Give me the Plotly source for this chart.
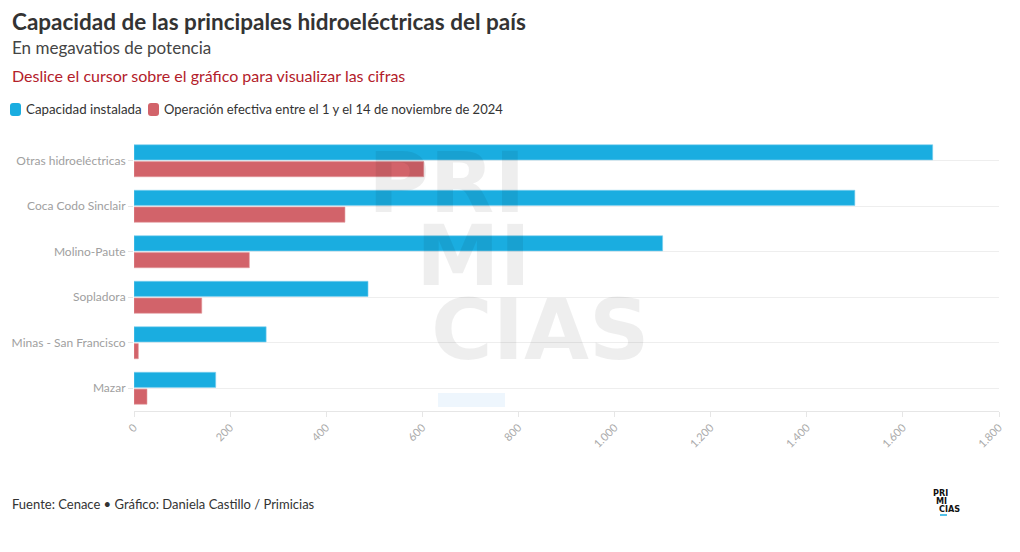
import plotly.graph_objects as go

categories = ["Otras hidroeléctricas", "Coca Codo Sinclair", "Molino-Paute",
              "Sopladora", "Minas - San Francisco", "Mazar"]
capacidad = [1662, 1500, 1100, 487, 275, 170]
operacion = [603, 439, 240, 141, 9, 27]
x_ticks = [0, 200, 400, 600, 800, 1000, 1200, 1400, 1600, 1800]
series_names = ["Capacidad instalada",
                "Operación efectiva entre el 1 y el 14 de noviembre de 2024"]

BLUE = "#1aade0"
RED = "#d2636a"
FONT = "Lato"

OFF = 8  # page body margin
W, H = 1004, 536
L, T = 134 - OFF, 138 - OFF
R = W - (999 - OFF)
B = H - (411 - OFF)
PW, PH = W - L - R, H - T - B


def px(x):
    return (x - OFF - L) / PW


def py(y):
    return 1 - (y - OFF - T) / PH


fig = go.Figure()
fig.add_trace(go.Bar(y=categories, x=capacidad, orientation="h",
                     name=series_names[0], marker_color=BLUE,
                     marker_line=dict(color="#7fd0ee", width=0.6)))
fig.add_trace(go.Bar(y=categories, x=operacion, orientation="h",
                     name=series_names[1], marker_color=RED,
                     marker_line=dict(color="#e29a9e", width=0.6)))

fig.update_layout(
    width=W, height=H,
    margin=dict(l=L, r=R, t=T, b=B, autoexpand=False),
    paper_bgcolor="white", plot_bgcolor="white",
    barmode="group", bargap=0.26, bargroupgap=0.1,
    separators=",.",
    font=dict(family=FONT, color="#333"),
    showlegend=False,
    xaxis=dict(range=[0, 1800], tickvals=x_ticks, tickformat=",d", tickangle=-45,
               tickfont=dict(size=11, color="#aaa"), showgrid=False,
               showline=True, linecolor="#e6e6e6", ticks="outside",
               ticklen=5, tickcolor="#e6e6e6", zeroline=False, fixedrange=True,
               automargin=False),
    yaxis=dict(autorange="reversed", showgrid=True, gridcolor="#eeeeee",
               tickfont=dict(size=12, color="#a0a0a0"), ticks="outside",
               ticklen=5, tickcolor="#e6e6e6", showline=False, fixedrange=True,
               automargin=False),
)

# Watermark
wm = dict(xref="paper", yref="paper", showarrow=False,
          font=dict(family="DejaVu Sans", size=84, color="rgba(0,0,0,0.065)"),
          xanchor="left", yanchor="middle")
fig.add_annotation(text="<b>PRI</b>", x=px(366), y=py(183), **wm)
fig.add_annotation(text="<b>MI</b>", x=px(414), y=py(256), **wm)
fig.add_annotation(text="<b>CIAS</b>", x=px(429), y=py(330), **wm)
fig.add_shape(type="rect", xref="paper", yref="paper", x0=px(438), x1=px(505),
              y0=py(407), y1=py(393), fillcolor="#eef6fd", line_width=0, layer="below")

# Titles and footer
texts = [
    dict(text="<b>Capacidad de las principales hidroeléctricas del país</b>",
         x=10, y=22, size=22.5, color="#333"),
    dict(text="En megavatios de potencia", x=10, y=47, size=17, color="#444"),
    dict(text="Deslice el cursor sobre el gráfico para visualizar las cifras",
         x=10, y=76, size=16, color="#b3202a"),
    dict(text="Fuente: Cenace • Gráfico: Daniela Castillo / Primicias",
         x=10, y=504, size=13, color="#333"),
    dict(text=series_names[0], x=24, y=109.5, size=13.3, color="#333"),
    dict(text=series_names[1], x=162, y=109.5, size=13, color="#333"),
]
for a in texts:
    fig.add_annotation(text=a["text"], xref="paper", yref="paper",
                       x=px(a["x"]), y=py(a["y"]),
                       xanchor="left", yanchor="middle", showarrow=False,
                       font=dict(size=a["size"], color=a["color"], family=FONT))


# Legend symbols (rounded squares), built in paper units
def rounded(x0, y0, x1, y1, rx, ry):
    return (f"M{x0+rx},{y0} L{x1-rx},{y0} Q{x1},{y0} {x1},{y0+ry} L{x1},{y1-ry} "
            f"Q{x1},{y1} {x1-rx},{y1} L{x0+rx},{y1} Q{x0},{y1} {x0},{y1-ry} "
            f"L{x0},{y0+ry} Q{x0},{y0} {x0+rx},{y0} Z")


rx, ry = 3 / PW, 3 / PH
for (x0, col) in [(10, BLUE), (148, RED)]:
    fig.add_shape(type="path", xref="paper", yref="paper",
                  path=rounded(px(x0), py(116), px(x0 + 11), py(103), rx, ry),
                  fillcolor=col, line_width=0)

# Small logo
logo = dict(xref="paper", yref="paper", showarrow=False, xanchor="left",
            yanchor="middle", font=dict(family="DejaVu Sans Condensed", size=9, color="#111"))
fig.add_annotation(text="<b>PRI</b>", x=px(931), y=py(492.5), **logo)
fig.add_annotation(text="<b>MI</b>", x=px(934), y=py(500.5), **logo)
fig.add_annotation(text="<b>CIAS</b>", x=px(937), y=py(508.5), **logo)
fig.add_shape(type="line", xref="paper", yref="paper",
              x0=px(940), x1=px(947), y0=py(515), y1=py(515),
              line=dict(color=BLUE, width=1.5))

fig.write_html("out.html")
